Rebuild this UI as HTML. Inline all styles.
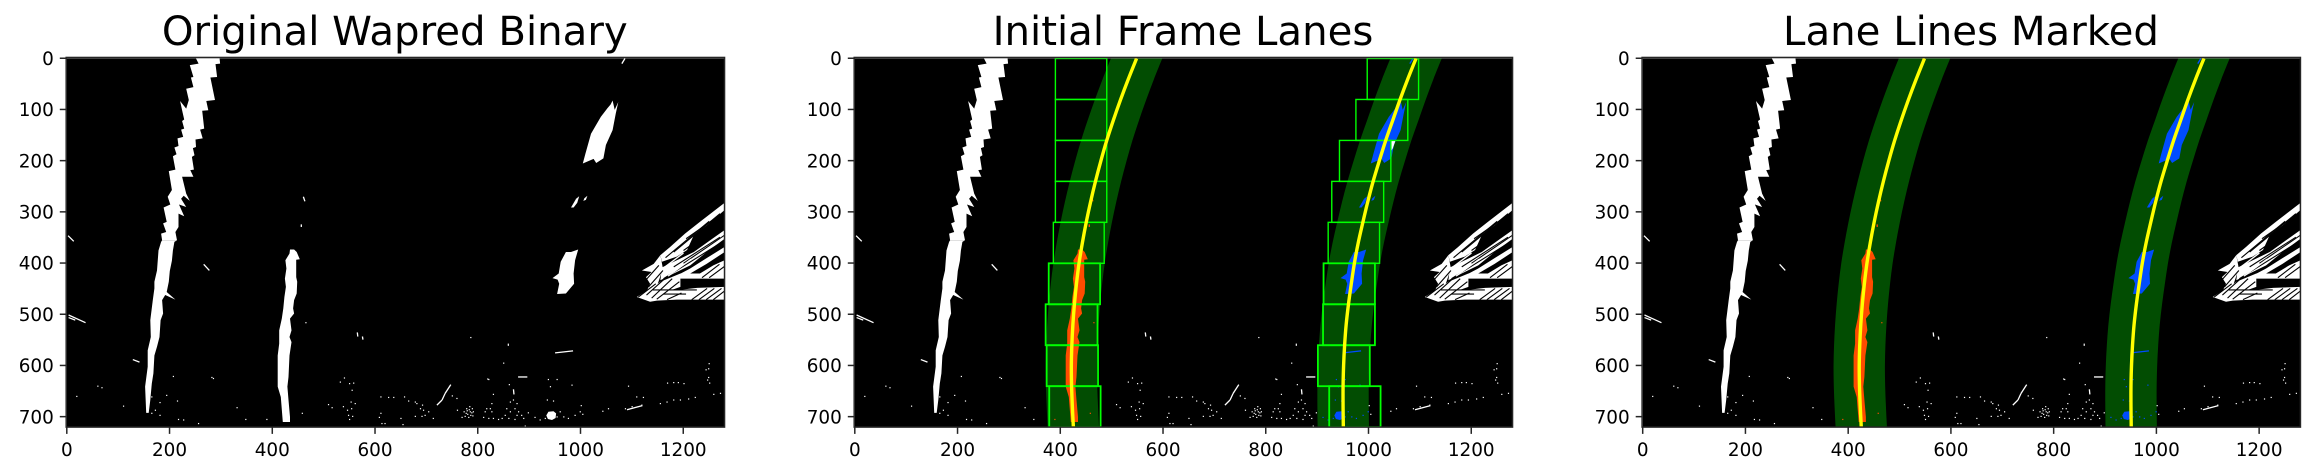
<!DOCTYPE html>
<html lang="en">
<head>
<meta charset="utf-8">
<title>Lane detection panels</title>
<style>
html,body{margin:0;padding:0;background:#fff;width:2316px;height:474px;overflow:hidden}
svg{display:block}
text{font-family:"DejaVu Sans","Liberation Sans",sans-serif;fill:#000}
.tick-label{font-size:18.4px}
.panel-title{font-size:40.25px}
</style>
</head>
<body>
<svg id="chart" xmlns="http://www.w3.org/2000/svg" width="2316" height="474" viewBox="0 0 2316 474">
  <text class="panel-title" x="394.8" y="45" text-anchor="middle">Original Wapred Binary</text>
  <text class="panel-title" x="1183" y="45" text-anchor="middle">Initial Frame Lanes</text>
  <text class="panel-title" x="1971" y="45" text-anchor="middle">Lane Lines Marked</text>
</svg>
<script>
// All values are in image coordinates (x 0-1280, y 0-720).
const xTicks = [0, 200, 400, 600, 800, 1000, 1200];
const yTicks = [0, 100, 200, 300, 400, 500, 600, 700];

const fitY = [0, 40, 80, 120, 160, 200, 240, 280, 320, 360, 400, 440, 480, 520, 560, 600, 640, 680, 720];
const leftFitX = [548, 532, 517, 503, 490, 478.5, 468, 458.5, 450, 442.5, 436, 431, 427, 424, 422, 421, 421.5, 423, 425];
const rightFitX = [1092, 1076, 1061, 1047, 1033, 1020.5, 1008.5, 998, 988.5, 979.5, 972, 966, 960.5, 956, 953, 951, 950, 950, 950.5];
const bandMargin = 50;

const windowTop = [0, 80, 160, 240, 320, 400, 480, 560, 640];
const windowHeight = 80;
const leftWindowLow = [390, 390, 390, 390, 386, 377, 371, 373, 378];
const leftWindowHigh = [490, 490, 490, 490, 485, 477, 472, 473, 478];
const rightWindowLow = [997, 975, 943, 928, 921, 912, 911, 901, 923];
const rightWindowHigh = [1097, 1076, 1043, 1029, 1021, 1012, 1012, 1002, 1023];

const farLeftMarkingUpper = [[251,0],[297,0],[298,10],[289,11],[292,36],[279,37],[288,81],[271,83],[275,101],[263,102],[267,137],[259,139],[264,156],[250,158],[251,173],[245,175],[248,189],[243,192],[247,217],[240,218],[246,231],[224,231],[232,264],[239,278],[227,268],[222,274],[232,290],[218,285],[228,308],[217,303],[217,329],[211,339],[214,355],[185,355],[183,342],[193,339],[187,322],[194,319],[188,291],[201,285],[196,270],[204,257],[198,220],[211,217],[206,191],[213,187],[209,174],[217,171],[215,156],[226,153],[222,139],[228,137],[224,122],[228,119],[224,101],[220,83],[232,98],[237,81],[232,59],[246,56],[241,37],[246,36],[239,13],[256,10]];
const farLeftMarkingLower = [[214,355],[209,358],[206,375],[204,395],[200,415],[198,436],[194,456],[211,471],[191,462],[185,472],[187,498],[182,511],[180,544],[175,563],[170,580],[168,615],[165,635],[162,667],[159,692],[154,692],[152,641],[157,602],[157,570],[163,544],[162,511],[167,472],[170,449],[170,436],[175,414],[176,401],[178,375],[183,358],[185,355]];
const centerMarking = [[442,373],[447,378],[453,392],[446,393],[446,407],[446,427],[448,436],[447,459],[442,472],[440,488],[442,498],[434,508],[437,531],[433,544],[437,554],[433,580],[431,622],[429,641],[431,667],[434,700],[434,710],[420,710],[416,661],[410,641],[410,615],[410,580],[413,557],[413,531],[418,508],[421,488],[423,466],[426,446],[424,430],[427,410],[425,394],[433,381],[434,373]];
const rightDashUpper = [[1073,85],[1068,108],[1062,140],[1049,169],[1044,195],[1030,204],[1025,196],[1004,205],[1009,186],[1020,147],[1039,114],[1052,97],[1058,90],[1062,82],[1066,100]];
const rightDashMidA = [[981,291],[991,274],[997,269],[993,282],[986,291]];
const rightDashMidB = [[1007,273],[1013,268],[1010,276],[1005,278]];
const rightDashLower = [[995,373],[989,394],[986,420],[987,440],[971,459],[954,460],[958,440],[955,432],[945,429],[957,420],[961,397],[971,378],[981,378]];
const whitePatch = [[1043,160],[1052,160],[1047,175],[1043,182]];
const speckleBlob = [[933,697],[937,690],[947,689],[952,693],[951,702],[944,706],[936,704]];

const clutterStreakA = [[1280,282],[1280,296],[1245,326],[1220,345],[1207,374],[1187,387],[1158,397],[1155,384],[1174,368],[1203,342],[1232,319]];
const clutterStreakB = [[1280,335],[1280,352],[1245,378],[1213,404],[1181,420],[1155,433],[1158,408],[1187,394],[1220,378],[1252,355]];
const clutterStreakC = [[1280,368],[1280,378],[1245,401],[1213,420],[1187,433],[1183,426],[1213,410],[1245,390]];
const clutterBlockD = [[1280,394],[1280,430],[1226,430],[1194,430],[1194,446],[1174,453],[1135,451],[1155,436],[1194,420],[1232,420],[1258,404]];
const clutterBlockE = [[1280,446],[1280,471],[1187,471],[1148,473],[1135,475],[1109,466],[1129,453],[1135,440],[1127,427],[1138,417],[1119,414],[1142,401],[1155,384],[1160,410],[1150,440],[1145,452],[1190,452],[1226,448]];

// thin line fragments: x1, y1, x2, y2
const whiteFragments = [[2,346,13,357],[3,501,36,516],[3,506,16,511],[266,402,277,414],[128,588,141,593],[460,270,463,279],[456,324,456,329],[565,535,566,543],[575,543,576,549],[950,575,985,571],[1086,0,1080,10],[720,677,730,667],[730,667,736,654],[736,654,747,637],[869,646,870,656],[878,622,896,622],[1090,686,1120,678],[1160,410,1200,380],[1170,425,1215,392]];
const blackFragments = [[1181,378,1271,303],[1181,407,1271,349],[1161,430,1271,361],[1200,375,1280,318],[1140,452,1226,452],[1226,438,1280,438],[1160,460,1205,460],[1200,400,1280,345],[1230,414,1280,384],[1165,389,1250,318],[1128,462,1168,426],[1138,468,1178,430],[1148,470,1192,436],[1122,438,1152,404],[1132,446,1160,414],[1112,466,1146,440],[1216,471,1246,449],[1230,471,1260,449],[1244,471,1274,449],[1258,471,1280,454],[1236,428,1270,402],[1250,428,1280,406],[1168,471,1196,458],[1205,352,1262,312]];

// single speckles: x, y
const specklesLeft = [[60,640],[68,643],[19,660],[110,679],[207,621],[282,623],[285,625],[165,661],[194,658],[181,672],[215,669],[172,687],[165,693],[181,697],[217,705],[227,706],[256,713],[331,682],[348,705],[465,516]];
const specklesMiddle = [[532,632],[540,624],[550,635],[558,634],[555,648],[509,676],[516,682],[553,671],[561,674],[538,680],[546,687],[554,684],[548,697],[556,699],[550,705],[458,693],[389,705],[611,661],[626,662],[636,662],[657,661],[665,669],[678,671],[681,674],[692,677],[688,684],[694,687],[678,699],[691,699],[697,697],[704,690],[713,703],[611,693],[608,701],[613,713],[619,713],[654,715],[650,703],[759,664],[750,659],[760,687],[786,545]];
const specklesCluster = [[773,690],[778,684],[784,680],[789,684],[791,690],[785,690],[780,695],[775,699],[786,697],[782,701],[769,701],[777,693],[788,692],[783,686],[779,688],[790,698]];
const specklesRight = [[817,684],[827,674],[824,684],[814,690],[811,701],[827,690],[821,703],[830,703],[840,705],[847,703],[853,697],[856,684],[863,671],[869,667],[876,674],[872,684],[879,690],[863,690],[876,697],[860,703],[872,705],[885,697],[889,703],[898,692],[861,637],[821,627],[830,656],[850,595],[859,558],[859,560],[892,718],[819,626],[931,703],[921,706],[911,701],[960,690],[954,700],[967,700],[976,703],[989,697],[999,690],[1004,695],[1001,678],[935,667],[947,669],[941,641],[937,627],[954,627],[983,638]];
const specklesFar = [[1043,689],[1054,684],[1087,684],[1100,680],[1119,677],[1109,661],[1122,662],[1093,640],[1155,674],[1168,671],[1181,667],[1194,667],[1210,665],[1223,662],[1259,656],[1272,654],[1169,634],[1181,633],[1190,633],[1201,635],[1249,623],[1247,628],[1251,634],[1249,606],[1244,608],[1250,596]];

const panelOrigins = [66.8, 854.8, 1642.7];
const pxPerX = 0.5137;
const pxPerY = 0.512;
const plotTop = 58.25;
const NS = 'http://www.w3.org/2000/svg';
const root = document.getElementById('chart');

function make(tag, parent) {
  const el = document.createElementNS(NS, tag);
  parent.appendChild(el);
  return el;
}
function xScale(v) { return (v + 0.5) * pxPerX; }
function yScale(v) { return (v + 0.5) * pxPerY; }
function interp(ys, xs, y) {
  if (y <= ys[0]) return xs[0];
  for (let i = 1; i < ys.length; i++) {
    if (y <= ys[i]) {
      const t = (y - ys[i - 1]) / (ys[i] - ys[i - 1]);
      return xs[i - 1] + t * (xs[i] - xs[i - 1]);
    }
  }
  return xs[xs.length - 1];
}
function polyPath(pts) {
  return pts.map(function (p, i) {
    return (i ? 'L' : 'M') + xScale(p[0]).toFixed(1) + ' ' + yScale(p[1]).toFixed(1);
  }).join('') + 'Z';
}
// Smooth path through data points (pixel coordinates already applied).
function smoothPath(pts, lead) {
  const px = pts.map(function (p) { return [xScale(p[0]), yScale(p[1])]; });
  let d = lead + px[0][0].toFixed(2) + ' ' + px[0][1].toFixed(2);
  for (let i = 0; i < px.length - 1; i++) {
    const p0 = px[Math.max(i - 1, 0)];
    const p1 = px[i];
    const p2 = px[i + 1];
    const p3 = px[Math.min(i + 2, px.length - 1)];
    d += 'C' + (p1[0] + (p2[0] - p0[0]) / 6).toFixed(2) + ' ' + (p1[1] + (p2[1] - p0[1]) / 6).toFixed(2) + ' ' +
      (p2[0] - (p3[0] - p1[0]) / 6).toFixed(2) + ' ' + (p2[1] - (p3[1] - p1[1]) / 6).toFixed(2) + ' ' +
      p2[0].toFixed(2) + ' ' + p2[1].toFixed(2);
  }
  return d;
}
function speckColor(panel, x, y) {
  if (panel === 0) return '#ffffff';
  if (Math.abs(x - interp(fitY, leftFitX, y)) <= bandMargin) return '#ff4c00';
  if (Math.abs(x - interp(fitY, rightFitX, y)) <= bandMargin) return '#004cff';
  return '#ffffff';
}
function drawPolygon(parent, pts, fill, name) {
  const el = make('path', parent);
  el.setAttribute('d', polyPath(pts));
  el.setAttribute('fill', fill);
  
  
}
function drawBand(parent, fitX, name) {
  const forward = fitY.map(function (y, i) { return [fitX[i] - bandMargin, y]; });
  const back = fitY.map(function (y, i) { return [fitX[i] + bandMargin, y]; }).reverse();
  const el = make('path', parent);
  el.setAttribute('d', smoothPath(forward, 'M') + smoothPath(back, 'L') + 'Z');
  el.setAttribute('fill', '#024d02');
  
  
}
function drawCurve(parent, fitX, name) {
  const pts = fitY.map(function (y, i) { return [fitX[i], y]; });
  const el = make('path', parent);
  el.setAttribute('d', smoothPath(pts, 'M'));
  el.setAttribute('fill', 'none');
  el.setAttribute('stroke', '#ffff00');
  el.setAttribute('stroke-width', '3.4');
  
  
}
function drawWindows(parent, lows, highs, side) {
  windowTop.forEach(function (top, i) {
    const rect = make('rect', parent);
    rect.setAttribute('x', xScale(lows[i]));
    rect.setAttribute('y', yScale(top));
    rect.setAttribute('width', xScale(highs[i]) - xScale(lows[i]));
    rect.setAttribute('height', windowHeight * pxPerY);
    rect.setAttribute('fill', 'none');
    rect.setAttribute('stroke', '#00ff00');
    rect.setAttribute('stroke-width', top >= 400 ? '1.8' : '1.4');
    
    
  });
}
function drawFragments(parent, panel, list, black) {
  list.forEach(function (s) {
    const line = make('line', parent);
    line.setAttribute('x1', xScale(s[0]));
    line.setAttribute('y1', yScale(s[1]));
    line.setAttribute('x2', xScale(s[2]));
    line.setAttribute('y2', yScale(s[3]));
    line.setAttribute('stroke', black ? '#000000' : speckColor(panel, (s[0] + s[2]) / 2, (s[1] + s[3]) / 2));
    line.setAttribute('stroke-width', black ? '1.1' : '1.3');
    
    
  });
}
function drawSpeckles(parent, panel, list) {
  list.forEach(function (p) {
    const dot = make('rect', parent);
    dot.setAttribute('x', xScale(p[0]) - 0.6);
    dot.setAttribute('y', yScale(p[1]) - 0.6);
    dot.setAttribute('width', '1.2');
    dot.setAttribute('height', '1.2');
    dot.setAttribute('fill', speckColor(panel, p[0], p[1]));
    
    
  });
}
function drawAxes(group, x0) {
  const width = 1280 * pxPerX;
  const height = 720 * pxPerY;
  const frame = make('rect', group);
  frame.setAttribute('x', x0 - 0.6);
  frame.setAttribute('y', plotTop - 0.8);
  frame.setAttribute('width', width + 0.8);
  frame.setAttribute('height', height + 1);
  frame.setAttribute('fill', 'none');
  frame.setAttribute('stroke', '#262626');
  frame.setAttribute('stroke-width', '1.5');
  
  
  xTicks.forEach(function (v) {
    const px = x0 + v * pxPerX;
    const tick = make('line', group);
    tick.setAttribute('x1', px);
    tick.setAttribute('x2', px);
    tick.setAttribute('y1', plotTop + height);
    tick.setAttribute('y2', plotTop + height + 7);
    tick.setAttribute('stroke', '#262626');
    tick.setAttribute('stroke-width', '1.5');
    
    
    const label = make('text', group);
    label.setAttribute('class', 'tick-label');
    label.setAttribute('x', px);
    label.setAttribute('y', 456);
    label.setAttribute('text-anchor', 'middle');
    
    
    label.textContent = String(v);
  });
  yTicks.forEach(function (v) {
    const py = plotTop + v * pxPerY;
    const tick = make('line', group);
    tick.setAttribute('x1', x0 - 7);
    tick.setAttribute('x2', x0);
    tick.setAttribute('y1', py);
    tick.setAttribute('y2', py);
    tick.setAttribute('stroke', '#262626');
    tick.setAttribute('stroke-width', '1.5');
    
    
    const label = make('text', group);
    label.setAttribute('class', 'tick-label');
    label.setAttribute('x', x0 - 13);
    label.setAttribute('y', py + 6.6);
    label.setAttribute('text-anchor', 'end');
    
    
    label.textContent = String(v);
  });
}
function drawPanel(panel) {
  const x0 = panelOrigins[panel];
  const group = make('g', root);
  
  
  const plot = make('svg', group);
  plot.setAttribute('x', x0);
  plot.setAttribute('y', plotTop);
  plot.setAttribute('width', 1280 * pxPerX);
  plot.setAttribute('height', 720 * pxPerY);
  
  
  const bg = make('rect', plot);
  bg.setAttribute('width', '100%');
  bg.setAttribute('height', '100%');
  bg.setAttribute('fill', '#000000');
  
  

  if (panel > 0) {
    drawBand(plot, leftFitX, 'left-lane-band');
    drawBand(plot, rightFitX, 'right-lane-band');
  }
  const leftColor = panel ? '#ff4c00' : '#ffffff';
  const rightColor = panel ? '#004cff' : '#ffffff';
  drawPolygon(plot, farLeftMarkingUpper, '#ffffff', 'far-left-marking-upper');
  drawPolygon(plot, farLeftMarkingLower, '#ffffff', 'far-left-marking-lower');
  drawPolygon(plot, centerMarking, leftColor, 'left-lane-pixels');
  drawPolygon(plot, rightDashUpper, rightColor, 'right-lane-dash-upper');
  drawPolygon(plot, rightDashMidA, rightColor, 'right-lane-dash-mid');
  drawPolygon(plot, rightDashMidB, rightColor, 'right-lane-dash-mid');
  drawPolygon(plot, rightDashLower, rightColor, 'right-lane-dash-lower');
  drawPolygon(plot, speckleBlob, rightColor, 'speckle-blob');
  if (panel === 1) {
    drawPolygon(plot, whitePatch, '#ffffff', 'unassigned-pixels');
  }
  drawPolygon(plot, clutterStreakA, '#ffffff', 'roadside-clutter');
  drawPolygon(plot, clutterStreakB, '#ffffff', 'roadside-clutter');
  drawPolygon(plot, clutterStreakC, '#ffffff', 'roadside-clutter');
  drawPolygon(plot, clutterBlockD, '#ffffff', 'roadside-clutter');
  drawPolygon(plot, clutterBlockE, '#ffffff', 'roadside-clutter');
  drawFragments(plot, panel, blackFragments, true);
  drawFragments(plot, panel, whiteFragments, false);
  drawSpeckles(plot, panel, specklesLeft);
  drawSpeckles(plot, panel, specklesMiddle);
  drawSpeckles(plot, panel, specklesCluster);
  drawSpeckles(plot, panel, specklesRight);
  drawSpeckles(plot, panel, specklesFar);
  if (panel === 1) {
    drawWindows(plot, leftWindowLow, leftWindowHigh, 'left');
    drawWindows(plot, rightWindowLow, rightWindowHigh, 'right');
  }
  if (panel > 0) {
    drawCurve(plot, leftFitX, 'left-lane-fit');
    drawCurve(plot, rightFitX, 'right-lane-fit');
  }
  drawAxes(group, x0);
}
[0, 1, 2].forEach(drawPanel);
</script>
</body>
</html>
